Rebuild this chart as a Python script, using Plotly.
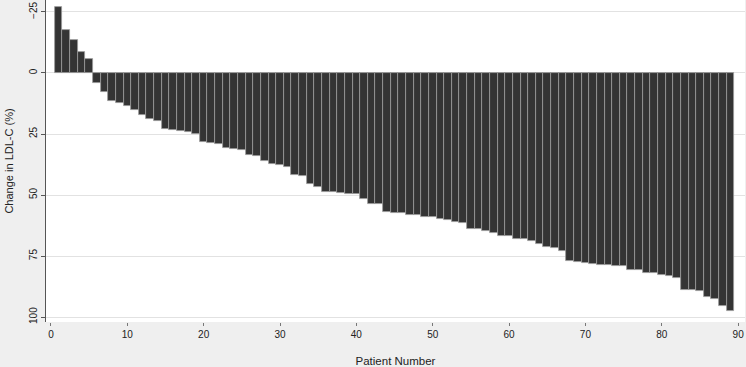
import plotly.graph_objects as go

patients = list(range(1, 90))
ldl_change = [
    -26.9, -17.6, -13.5, -8.5, -5.7, 4.0, 7.7, 11.5, 12.2, 13.4,
    15.2, 17.2, 18.9, 19.8, 23.0, 23.4, 23.6, 24.2, 25.0, 28.4,
    28.7, 29.1, 30.7, 31.3, 31.6, 33.6, 33.9, 35.9, 37.3, 37.6,
    38.5, 41.8, 42.3, 45.6, 46.8, 48.6, 48.9, 49.3, 49.7, 49.7,
    51.8, 53.7, 53.8, 57.0, 57.5, 57.5, 58.2, 58.3, 59.0, 59.0,
    59.8, 60.4, 61.1, 61.3, 63.8, 63.8, 64.9, 65.4, 66.9, 66.9,
    68.0, 68.0, 69.0, 70.1, 71.4, 71.7, 72.8, 77.0, 77.5, 77.7,
    78.4, 78.7, 78.7, 79.0, 79.2, 80.6, 80.6, 82.1, 82.1, 82.8,
    83.1, 84.1, 88.9, 88.9, 89.3, 91.8, 92.5, 95.4, 97.3,
]
x_ticks = [0, 10, 20, 30, 40, 50, 60, 70, 80, 90]
y_ticks = [-25, 0, 25, 50, 75, 100]

fig = go.Figure(go.Bar(
    x=patients, y=ldl_change,
    marker=dict(color="#343434", line=dict(color="#9a9a9a", width=0.8)),
))

fig.update_layout(
    width=746, height=367,
    margin=dict(l=46, r=1, t=0, b=45),
    paper_bgcolor="#efefef", plot_bgcolor="white",
    bargap=0, showlegend=False,
    font=dict(family="Liberation Sans, Arial, sans-serif", color="#222"),
)
fig.update_xaxes(
    range=[-0.65, 90.9], tickvals=x_ticks, showgrid=False, zeroline=False,
    ticks="outside", ticklen=3, tickcolor="#777", tickfont=dict(size=10),
    title=dict(text="Patient Number", font=dict(size=11.5), standoff=18),
    showline=False, automargin=False,
)
fig.update_yaxes(
    range=[102, -29.9], tickvals=y_ticks, tickangle=-90,
    showgrid=True, gridcolor="#e2e2e2", gridwidth=1, zeroline=False,
    ticks="outside", ticklen=4, tickcolor="#555", tickfont=dict(size=10),
    showline=True, linecolor="#555", linewidth=1,
    title=dict(text="Change in LDL-C (%)", font=dict(size=11), standoff=12),
    automargin=False,
)

fig.write_html(
    "out.html",
    config={"displayModeBar": False},
    post_script="document.body.style.margin='0';document.body.style.overflow='hidden';",
)
